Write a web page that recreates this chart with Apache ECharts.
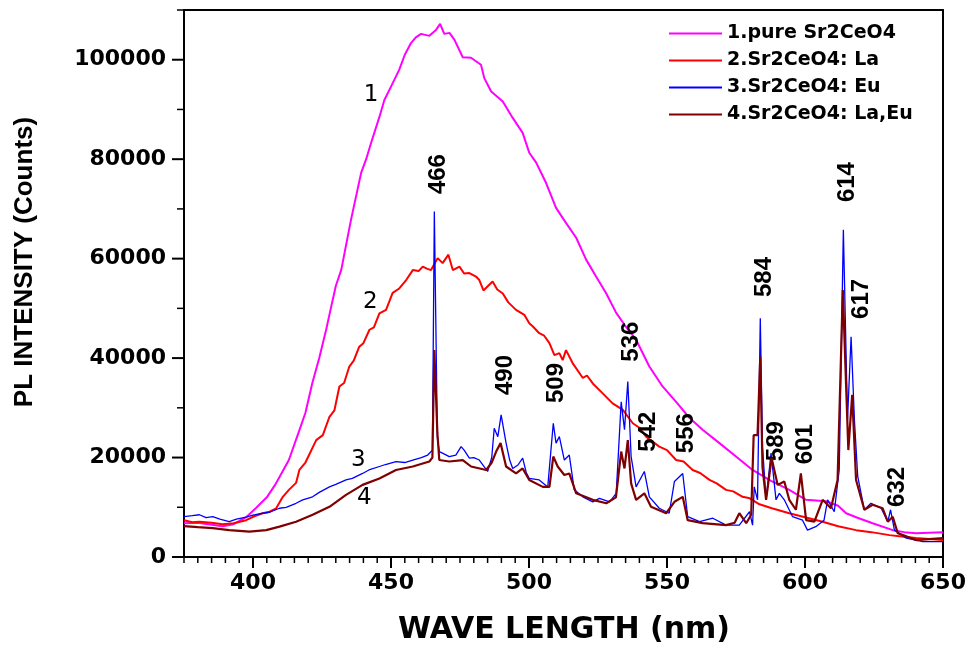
<!DOCTYPE html>
<html lang="en">
<head>
  <meta charset="UTF-8">
  <title>PL spectra</title>
  <style>
    * { margin: 0; padding: 0; }
    body { background: #fff; }
    #main { width: 970px; height: 650px; }
  </style>
</head>
<body>
  <div id="main"></div>
  <script src="https://cdn.jsdelivr.net/npm/echarts@6/dist/echarts.min.js"></script>
  <script>
    // series names
    var names = ['1.pure Sr2CeO4', '2.Sr2CeO4: La', '3.Sr2CeO4: Eu', '4.Sr2CeO4: La,Eu'];
    var colors = ['#ff00ff', '#ff0000', '#0000ff', '#7f0000'];

    // 1. pure Sr2CeO4
    var wl1 = [375, 380, 385, 389, 393, 397.5, 401, 405, 408, 410.5, 413, 416.5, 419, 421.5, 424, 426.5, 428, 430, 432, 435.5,
      439.2, 441, 442.8, 445.8, 447.6, 450, 453, 455, 457.3, 459, 460.9, 463.9, 466.3, 467.8, 469.3, 471.2, 473, 476, 479, 482.6,
      483.8, 486.3, 490.5, 494.1, 497.7, 500.1, 502.6, 506.2, 509.8, 513.4, 517.1, 520.7, 524.3, 527.9, 531.6, 534.6, 538.8, 543.6, 548.4, 553.3,
      558.1, 562.9, 569, 575, 581, 587.7, 594.3, 600.4, 607.6, 612, 614.9, 619, 624.5, 631.8, 636, 640.2, 645, 650];
    var pl1 = [6800, 6900, 6500, 6200, 6600, 8000, 9800, 12000, 14500, 17000, 19500, 25000, 29000, 35000, 40000, 45700, 49500, 54500, 57800, 67800,
      77300, 80000, 83300, 88500, 91900, 94600, 98000, 101000, 103400, 104500, 105200, 104800, 106000, 107200, 105200, 105400, 104000, 100500, 100400, 99000,
      96300, 93600, 91600, 88300, 85300, 81300, 79300, 75200, 70200, 67200, 64200, 59800, 56400, 53100, 49100, 46700, 43700, 38300, 34300, 31200,
      28000, 25600, 22900, 20200, 17500, 15300, 13500, 11500, 11200, 10300, 8800, 7900, 6800, 5400, 5000, 4800, 4900, 5000];

    // 2. Sr2CeO4: La
    var wl2 = [375, 378, 380.6, 385, 389, 393, 397.5, 400.5, 403.5, 406, 408.4, 410.8, 413, 415.6, 416.8, 419, 422.9, 425.3, 427.7, 429.5,
      431.3, 433, 434.9, 436.5, 438.5, 440, 442.2, 443.8, 445.8, 448.2, 450.6, 453, 455.5, 457.9, 460, 461.5, 463, 464.5, 466.9, 468.7,
      470.8, 472.4, 474.8, 476.5, 478.4, 480.8, 482, 483.5, 486.8, 488.5, 490.5, 492.5, 495.3, 498.3, 500.1, 501.5, 503.7, 505.5, 507.4, 509.2,
      511, 512.2, 513.4, 515.8, 519.5, 521, 523.1, 526.7, 530.3, 534, 537.6, 540, 542.4, 547.2, 550, 553.3, 556, 559.3, 562, 565.4,
      568, 571.4, 574, 577.4, 580, 583.5, 588, 594.3, 600, 606.4, 612, 618.5, 624, 630.6, 635, 640.2, 645, 650];
    var pl2 = [7400, 7000, 7100, 6900, 6600, 6800, 7400, 8200, 8800, 9100, 9800, 12100, 13500, 14900, 17500, 19000, 23500, 24500, 28200, 29500,
      34300, 35000, 38300, 39500, 42300, 43000, 45700, 46200, 49000, 49700, 53100, 54000, 55700, 57700, 57500, 58400, 58000, 57700, 60100, 59100,
      60800, 57700, 58400, 57000, 57100, 56400, 55700, 53600, 55400, 53800, 53000, 51200, 49700, 48700, 47000, 46300, 45000, 44500, 43000, 40600,
      41000, 39600, 41600, 39000, 36000, 36500, 34900, 32900, 30900, 29600, 26900, 26000, 24200, 22200, 21500, 19500, 19200, 17500, 16900, 15500,
      14800, 13500, 13200, 12100, 11800, 10600, 9800, 8800, 8000, 7100, 6200, 5400, 5000, 4400, 4100, 3800, 3600, 3400];

    // 3. Sr2CeO4: Eu
    var wl3 = [375, 378, 380.6, 383, 385.4, 388, 391.4, 394, 397.5, 400, 403.5, 406, 409.6, 412, 415.6, 418, 421.6, 424, 427.7, 430,
      433.7, 436, 439.7, 442, 445.8, 448, 451.8, 455, 457.9, 461, 463.3, 465, 465.7, 466.8, 467.5, 469, 471.1, 473.5, 475.4, 476.5,
      478.4, 480, 482, 485, 486.5, 487.4, 488.7, 489.9, 491.7, 493, 494.1, 496, 497.7, 499, 500.1, 503.7, 506.8, 508.8, 509.8, 511,
      512.8, 514.6, 516.4, 519.5, 523.1, 525.5, 529.2, 531.6, 533.4, 534.6, 535.8, 537, 538.8, 541.8, 543.6, 547.2, 550.8, 552.7, 555.7, 557.5,
      561.8, 566.6, 571.4, 576.2, 579.9, 581, 581.6, 582.8, 583.8, 584.6, 585.9, 587.7, 589.5, 590.7, 592.5, 595.5, 599.1, 600.9, 603.9, 606.9,
      608.2, 610.6, 612.4, 613.9, 615.4, 616.7, 617.9, 619.1, 621.5, 623.9, 627.6, 630, 631, 632.4, 636.7, 642.7, 650];
    var pl3 = [8100, 8300, 8500, 7900, 8100, 7600, 7100, 7600, 8000, 8400, 8800, 9000, 9800, 10000, 10800, 11500, 12100, 13000, 14100, 14600,
      15500, 15800, 16800, 17500, 18200, 18600, 19200, 19000, 19500, 20000, 20500, 21500, 69500, 24000, 21200, 20800, 20200, 20500, 22200, 21500,
      19900, 20000, 19500, 17200, 20000, 25900, 24200, 28600, 22900, 19500, 17800, 18500, 19900, 17000, 15800, 15500, 14100, 26900, 22900, 24200,
      19500, 20500, 13500, 12100, 11100, 11800, 11100, 12800, 31200, 25600, 35300, 20200, 14100, 17200, 12100, 9800, 8800, 15200, 16800, 8100,
      7100, 7800, 6400, 6400, 9100, 6400, 14100, 11500, 48000, 22200, 11500, 20900, 11500, 12800, 11500, 8100, 7400, 5400, 6100, 7400,
      11500, 9100, 17500, 65800, 27600, 44300, 27600, 16200, 9500, 10800, 9800, 7100, 9500, 5400, 3800, 3100, 3100];

    // 4. Sr2CeO4: La,Eu
    var wl4 = [375, 380, 385.4, 391.4, 398.7, 404.8, 409.6, 415.6, 421.6, 427.7, 433.7, 439.7, 445.8, 451.8, 457.9, 463.9, 465, 465.7, 466.8, 467.5,
      471.1, 476, 479, 484.5, 486.5, 488.1, 489.7, 491.7, 495.3, 497.7, 500.1, 505, 507.4, 508.8, 510.4, 512.8, 514.6, 517.1, 523.1, 528,
      531.5, 533.4, 534.6, 535.8, 537, 538.8, 541.8, 544.2, 549.7, 552.7, 555.7, 557.5, 562.9, 571.4, 574.5, 576.2, 578.7, 580.5, 581.4, 582.8,
      583.8, 584.6, 585.9, 587.9, 590.1, 592.5, 594.3, 596.7, 598.5, 600.4, 603.4, 606.4, 609.4, 611.8, 613.7, 615.7, 617.1, 618.5, 621.5, 624.5,
      628.1, 630, 631.8, 633.6, 640.2, 645, 650];
    var pl4 = [6200, 6000, 5800, 5400, 5100, 5400, 6100, 7100, 8500, 10100, 12500, 14500, 15800, 17500, 18200, 19200, 20000, 41600, 25000, 19500,
      19200, 19500, 18200, 17500, 19000, 21200, 22900, 18200, 16800, 17800, 15500, 14100, 14100, 20200, 18200, 16500, 16800, 12800, 11500, 10800,
      12000, 21200, 17800, 23500, 14800, 11500, 12800, 10100, 8800, 11100, 12100, 7400, 6800, 6400, 6900, 8800, 6800, 8500, 24500, 24500,
      40300, 18000, 11500, 19900, 14500, 15200, 11500, 9500, 16800, 7400, 7100, 11500, 9800, 15500, 53700, 21500, 32600, 15500, 9500, 10500,
      9800, 7100, 8100, 4800, 3400, 3600, 3800];

    // peak annotations
    var peakLabels = ['466', '490', '509', '536', '542', '556', '584', '589', '601', '614', '617', '632'];
    var peakX = [467.1, 491.4, 510, 537.1, 543.2, 557, 585.3, 589.6, 600.1, 615.3, 620.4, 633.5];
    var peakY = [77000, 36600, 35000, 43300, 25200, 24900, 56300, 23300, 22700, 75400, 51900, 14100];

    // curve numbers
    var curveLabels = ['1', '2', '3', '4'];
    var curveX = [442.8, 442.5, 438.2, 440.3];
    var curveY = [92800, 51300, 19500, 11900];

    // axis ticks: minor every 5 nm / 10000 counts, labelled every 50 nm / 20000 counts
    var xMin = 375, xMax = 650, xMinorStep = 5, xMajorStep = 50;
    var yMin = 0, yMax = 110000, yMinorStep = 10000, yMajorStep = 20000;

    function pairs(xs, ys) {
      return xs.map(function (x, i) { return [x, ys[i]]; });
    }
    function range(a, b, s) {
      var out = [];
      for (var v = a; v <= b + 1e-9; v += s) out.push(v);
      return out;
    }

    var myChart = echarts.init(document.getElementById('main'));

    var bold = { fontFamily: 'DejaVu Sans', fontWeight: 'bold', color: '#000' };
    function frameLine() { return { show: true, onZero: false, lineStyle: { color: '#000', width: 2 } }; }

    var lineWidths = [2, 2, 1.3, 2.2];
    var wls = [wl1, wl2, wl3, wl4];
    var pls = [pl1, pl2, pl3, pl4];

    var series = names.map(function (n, i) {
      return {
        name: n,
        type: 'line',
        data: pairs(wls[i], pls[i]),
        showSymbol: false,
        symbol: 'none',
        lineStyle: { color: colors[i], width: lineWidths[i] },
        itemStyle: { color: colors[i] },
        animation: false,
        z: 2 + i
      };
    });

    var marks = peakLabels.map(function (t, i) {
      return {
        coord: [peakX[i], peakY[i]], value: t,
        label: {
          show: true, position: 'inside', rotate: 90, formatter: '{c}',
          fontFamily: 'Liberation Sans', fontWeight: 'bold', fontSize: 24, color: '#000'
        }
      };
    }).concat(curveLabels.map(function (t, i) {
      return {
        coord: [curveX[i], curveY[i]], value: t,
        label: {
          show: true, position: 'inside', formatter: '{c}',
          fontFamily: 'DejaVu Sans', fontWeight: 'normal', fontSize: 23, color: '#000'
        }
      };
    }));
    series[3].markPoint = { symbol: 'circle', symbolSize: 0, silent: true, animation: false, data: marks };

    // all outward ticks in one custom series: [x, y, side] with side 0 = bottom axis, 1 = left axis
    var tickData = range(yMin, yMax, yMinorStep).map(function (v) { return [xMin, v, 1]; })
      .concat(range(xMin, xMax, xMinorStep).map(function (v) { return [v, yMin, 0]; }));

    series.push({
      type: 'custom',
      name: 'ticks',
      clip: false,
      silent: true,
      z: 20,
      encode: { x: 0, y: 1 },
      data: tickData,
      renderItem: function (params, api) {
        var x = api.value(0), y = api.value(1), side = api.value(2);
        var p = api.coord([x, y]);
        var major, len;
        if (side === 1) {
          major = Math.abs(y % yMajorStep) < 1e-6;
          len = major ? 12 : 7;
          return {
            type: 'line',
            shape: { x1: p[0], y1: p[1], x2: p[0] - len, y2: p[1] },
            style: { stroke: '#000', lineWidth: major ? 2 : 1.5 }
          };
        }
        major = Math.abs(x % xMajorStep) < 1e-6;
        len = major ? 11 : 6;
        return {
          type: 'line',
          shape: { x1: p[0], y1: p[1], x2: p[0], y2: p[1] + len },
          style: { stroke: '#000', lineWidth: major ? 2 : 1.5 }
        };
      }
    });

    var option = {
      animation: false,
      grid: { left: 184, right: 27, top: 10, bottom: 93, containLabel: false },
      legend: {
        data: names,
        orient: 'vertical',
        left: 664,
        top: 19,
        icon: 'rect',
        itemWidth: 53,
        itemHeight: 2,
        itemGap: 8,
        textStyle: { fontFamily: 'DejaVu Sans', fontWeight: 'bold', fontSize: 19, color: '#000', lineHeight: 18 }
      },
      xAxis: [{
        type: 'value', min: xMin, max: xMax, interval: xMajorStep / 2, position: 'bottom',
        axisLine: frameLine(),
        axisTick: { show: false },
        axisLabel: Object.assign({
          fontSize: 22, margin: 15,
          formatter: function (v) { return v % xMajorStep === 0 ? String(v) : ''; }
        }, bold),
        splitLine: { show: false }
      }, {
        type: 'value', min: xMin, max: xMax, position: 'top',
        axisLine: frameLine(), axisTick: { show: false }, axisLabel: { show: false }, splitLine: { show: false }
      }],
      yAxis: [{
        type: 'value', min: yMin, max: yMax, interval: yMajorStep / 2, position: 'left',
        axisLine: frameLine(),
        axisTick: { show: false },
        axisLabel: Object.assign({
          fontSize: 22, margin: 18,
          formatter: function (v) { return v % yMajorStep === 0 ? String(v) : ''; }
        }, bold),
        splitLine: { show: false }
      }, {
        type: 'value', min: yMin, max: yMax, position: 'right',
        axisLine: frameLine(), axisTick: { show: false }, axisLabel: { show: false }, splitLine: { show: false }
      }],
      graphic: [{
        type: 'text',
        x: 25, y: 262,
        rotation: Math.PI / 2,
        style: {
          text: 'PL INTENSITY (Counts)',
          fontFamily: 'Liberation Sans', fontWeight: 'bold', fontSize: 26,
          fill: '#000', align: 'center', verticalAlign: 'middle'
        }
      }, {
        type: 'text',
        x: 564, y: 630,
        style: {
          text: 'WAVE LENGTH (nm)',
          fontFamily: 'DejaVu Sans', fontWeight: 'bold', fontSize: 30,
          fill: '#000', align: 'center', verticalAlign: 'middle'
        }
      }],
      series: series
    };

    myChart.setOption(option);
  </script>
</body>
</html>
